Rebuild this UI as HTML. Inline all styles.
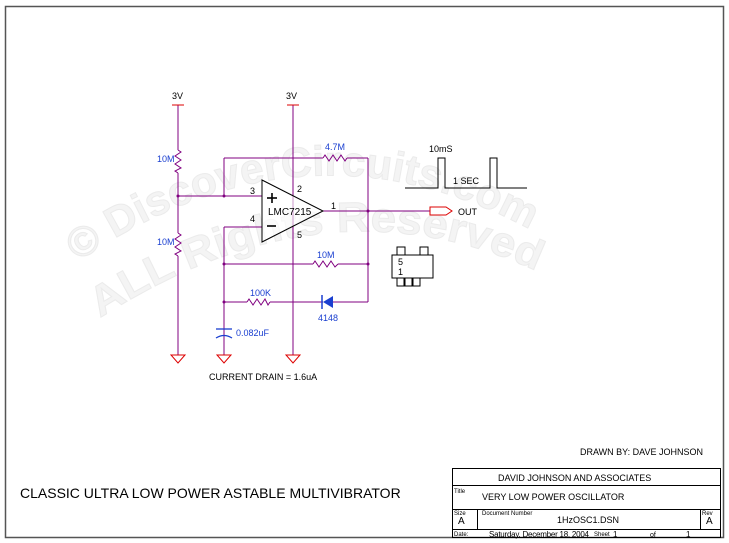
<!DOCTYPE html>
<html><head><style>body{margin:0;background:#fff}svg{display:block}</style></head><body>
<svg width="729" height="543" viewBox="0 0 729 543" xmlns="http://www.w3.org/2000/svg" font-family="Liberation Sans, sans-serif">
<rect x="0" y="0" width="729" height="543" fill="#fff"/>
<defs>
<path id="wm1" d="M 78,262 Q 320,95 565,250"/>
<path id="wm2" d="M 100,318 Q 330,170 545,275"/>
</defs>
<g fill="#f4f4f4" stroke="#ebebeb" stroke-width="1" font-size="42" font-weight="bold">
<text><textPath href="#wm1" textLength="480" lengthAdjust="spacingAndGlyphs">© DiscoverCircuits.com</textPath></text>
<text><textPath href="#wm2" textLength="460" lengthAdjust="spacingAndGlyphs">ALL Rights Reserved</textPath></text>
</g>
<rect x="5.5" y="6.5" width="718" height="531" fill="none" stroke="#555" stroke-width="1.5"/>
<g stroke="#800080" stroke-width="1" fill="none">
<line x1="178" y1="105" x2="178" y2="150"/>
<polyline points="178,150 181,152 175,156 181,160 175,164 181,168 175,171 178,173"/>
<line x1="178" y1="173" x2="178" y2="233"/>
<polyline points="178,233 181,235 175,239 181,243 175,247 181,251 175,254 178,256"/>
<line x1="178" y1="256" x2="178" y2="355"/>
<line x1="293" y1="105" x2="293" y2="355"/>
<line x1="224" y1="158" x2="224" y2="196"/>
<line x1="224" y1="158" x2="323" y2="158"/>
<polyline points="323,158 325,155 329,161 333,155 337,161 341,155 345,161 347,158"/>
<line x1="347" y1="158" x2="368" y2="158"/>
<line x1="368" y1="158" x2="368" y2="302"/>
<line x1="178" y1="196" x2="262" y2="196"/>
<line x1="224" y1="227" x2="262" y2="227"/>
<line x1="224" y1="227" x2="224" y2="355"/>
<line x1="323" y1="211" x2="430" y2="211"/>
<line x1="224" y1="264" x2="313" y2="264"/>
<polyline points="313,264 315,261 319,267 323,261 327,267 331,261 335,267 338,264"/>
<line x1="338" y1="264" x2="368" y2="264"/>
<line x1="224" y1="302" x2="247" y2="302"/>
<polyline points="247,302 249,299 253,305 257,299 261,305 265,299 268,305 270,302"/>
<line x1="270" y1="302" x2="323" y2="302"/>
<line x1="333" y1="302" x2="368" y2="302"/>
<line x1="224" y1="302" x2="224" y2="329"/>
<line x1="224" y1="336" x2="224" y2="355"/>
</g>
<g fill="#800080"><circle cx="178" cy="196" r="1.5"/><circle cx="224" cy="196" r="1.5"/><circle cx="368" cy="211" r="1.5"/><circle cx="224" cy="264" r="1.5"/><circle cx="368" cy="264" r="1.5"/><circle cx="224" cy="302" r="1.5"/></g>
<g stroke="#d00" fill="none" stroke-width="1">
<line x1="172" y1="105" x2="184" y2="105"/><line x1="287" y1="105" x2="299" y2="105"/>
<polygon points="171,355 185,355 178,363"/><polygon points="286,355 300,355 293,363"/><polygon points="217,355 231,355 224,363"/>
<polygon points="430,207 446,207 452,211 446,215 430,215"/>
</g>
<g stroke="#1a3fd0" stroke-width="1.3" fill="none">
<line x1="216" y1="329" x2="232" y2="329"/><path d="M216,338 Q224,333 232,338"/>
</g>
<polygon points="333,296 333,308 323,302" fill="#1a3fd0"/>
<line x1="322" y1="295" x2="322" y2="309" stroke="#1a3fd0" stroke-width="1.5"/>
<polygon points="262,180 262,242 323,211" fill="#fff" fill-opacity="0.6" stroke="#000" stroke-width="1"/>
<g stroke="#000" stroke-width="1.6"><line x1="267" y1="198" x2="277" y2="198"/><line x1="272" y1="193" x2="272" y2="203"/><line x1="267" y1="226" x2="276" y2="226"/></g>
<polyline points="405,188 438,188 438,158 445,158 445,188 490,188 490,158 497,158 497,188 527,188" fill="none" stroke="#000" stroke-width="1"/>
<g fill="none" stroke="#000" stroke-width="1">
<rect x="392" y="255" width="41" height="23"/>
<rect x="397" y="247" width="8" height="8"/><rect x="420" y="247" width="8" height="8"/>
<rect x="397" y="278" width="7" height="8"/><rect x="405" y="278" width="7" height="8"/><rect x="413" y="278" width="7" height="8"/>
</g>
<g fill="none" stroke="#000" stroke-width="1">
<rect x="452.5" y="468.5" width="268" height="69"/>
<line x1="452" y1="485.5" x2="721" y2="485.5"/>
<line x1="452" y1="509.5" x2="721" y2="509.5"/>
<line x1="452" y1="529.5" x2="721" y2="529.5"/>
<line x1="477.5" y1="510" x2="477.5" y2="530"/>
<line x1="700.5" y1="510" x2="700.5" y2="530"/>
</g>
<g font-size="9" fill="#000">
<text x="172" y="99">3V</text><text x="286" y="99">3V</text>
<text x="250" y="194">3</text><text x="297" y="192">2</text><text x="250" y="222">4</text><text x="297" y="238">5</text><text x="331" y="209">1</text>
<text x="268" y="215" font-size="10">LMC7215</text>
<text x="429" y="152">10mS</text><text x="453" y="184">1 SEC</text>
<text x="458" y="215" font-size="9">OUT</text>
<text x="398" y="265">5</text><text x="398" y="275">1</text>
<text x="209" y="380">CURRENT DRAIN = 1.6uA</text>
<text x="580" y="455" font-size="9">DRAWN BY: DAVE JOHNSON</text>
<text x="498" y="481" font-size="9">DAVID JOHNSON AND ASSOCIATES</text>
<text x="482" y="500" font-size="9">VERY LOW POWER OSCILLATOR</text>
<text x="557" y="523" font-size="9">1HzOSC1.DSN</text>
<text x="458" y="524" font-size="10">A</text><text x="706" y="524" font-size="10">A</text>
<text x="489" y="537" font-size="8" textLength="100">Saturday, December 18, 2004</text>
<text x="613" y="537" font-size="8">1</text><text x="650" y="537" font-size="7">of</text><text x="686" y="537" font-size="8">1</text>
</g>
<g font-size="6" fill="#000">
<text x="454" y="493">Title</text><text x="454" y="515">Size</text><text x="482" y="515">Document Number</text><text x="702" y="515">Rev</text>
<text x="454" y="536">Date:</text><text x="594" y="536">Sheet</text>
</g>
<g font-size="9" fill="#1a3fd0">
<text x="157" y="162">10M</text><text x="157" y="245">10M</text>
<text x="325" y="150">4.7M</text><text x="317" y="258">10M</text><text x="250" y="296">100K</text>
<text x="318" y="321">4148</text><text x="236" y="336">0.082uF</text>
</g>
<text x="20" y="498" font-size="14" fill="#000">CLASSIC ULTRA LOW POWER ASTABLE MULTIVIBRATOR</text>
</svg>
</body></html>
